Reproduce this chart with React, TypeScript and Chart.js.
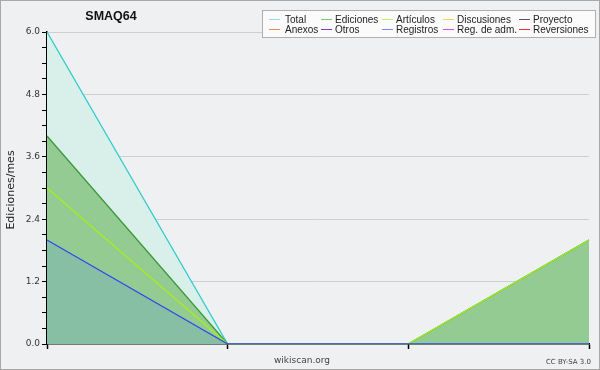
import React, { useEffect, useRef } from "react";
import { Chart, registerables } from "chart.js";

Chart.register(...registerables);

const categories = ["1", "2", "3", "4"];
const totalValues = [6, 0, 0, 2];
const edicionesValues = [4, 0, 0, 2];
const articulosValues = [3, 0, 0, 2];
const registrosValues = [2, 0, 0, 0];
const yMax = 6;
const yMinorStep = 0.3;
const yMajorStep = 1.2;

const legendRows = [
  ["Total", "Ediciones", "Artículos", "Discusiones", "Proyecto"],
  ["Anexos", "Otros", "Registros", "Reg. de adm.", "Reversiones"],
];
const legendColors = [
  ["#9adcdc", "#7cc47c", "#c4ee5c", "#f2d450", "#555555"],
  ["#f08848", "#7a3ed0", "#7a88f0", "#c855e0", "#f03030"],
];

const BG = "#eff0f2";

const decorPlugin = {
  id: "decor",
  beforeDraw(chart: any) {
    const ctx = chart.ctx;
    ctx.save();
    ctx.fillStyle = BG;
    ctx.fillRect(0, 0, chart.width, chart.height);
    ctx.restore();
  },
  afterDraw(chart: any) {
    const ctx = chart.ctx;
    ctx.save();
    ctx.strokeStyle = "#a8a8a8";
    ctx.lineWidth = 1;
    ctx.strokeRect(0.5, 0.5, chart.width - 1, chart.height - 1);
    ctx.fillStyle = "#111";
    ctx.font = 'bold 12.5px "Liberation Sans"';
    ctx.textAlign = "center";
    ctx.textBaseline = "middle";
    ctx.fillText("SMAQ64", 111, 17);
    ctx.save();
    ctx.translate(11, 190);
    ctx.rotate(-Math.PI / 2);
    ctx.font = '11px "DejaVu Sans"';
    ctx.fillStyle = "#222";
    ctx.fillText("Ediciones/mes", 0, 0);
    ctx.restore();
    ctx.font = '9px "DejaVu Sans"';
    ctx.fillStyle = "#444";
    ctx.fillText("wikiscan.org", 302, 361);
    ctx.font = '7px "DejaVu Sans"';
    ctx.textAlign = "right";
    ctx.fillText("CC BY-SA 3.0", 591, 362);
    // legend
    ctx.fillStyle = "#fbfbfb";
    ctx.fillRect(262.5, 10.5, 333, 27);
    ctx.strokeStyle = "#b0b0b0";
    ctx.strokeRect(262.5, 10.5, 333, 27);
    const lineX = [269, 321, 382, 443, 519];
    const textX = [285, 335, 396, 457, 533];
    const rowY = [19, 29];
    ctx.font = '10px "Liberation Sans"';
    ctx.textAlign = "left";
    ctx.textBaseline = "middle";
    legendRows.forEach((row, r) => {
      row.forEach((label, c) => {
        ctx.strokeStyle = legendColors[r][c];
        ctx.lineWidth = 1;
        ctx.beginPath();
        ctx.moveTo(lineX[c], rowY[r] + 0.5);
        ctx.lineTo(lineX[c] + 11, rowY[r] + 0.5);
        ctx.stroke();
        ctx.fillStyle = "#222";
        ctx.fillText(label, textX[c], rowY[r] + 1);
      });
    });
    ctx.restore();
  },
};

const isMajor = (v: number) => Math.abs(v / yMajorStep - Math.round(v / yMajorStep)) < 1e-6;

export default function App() {
  const ref = useRef<HTMLCanvasElement | null>(null);
  useEffect(() => {
    if (!ref.current) return;
    const chart = new Chart(ref.current, {
      type: "line",
      data: {
        labels: categories,
        datasets: [
          {
            label: "Registros",
            data: registrosValues,
            borderColor: "#3048ee",
            backgroundColor: "#87bfa5",
            fill: "origin",
            borderWidth: 1.3,
            pointRadius: 0,
          },
          {
            label: "Artículos",
            data: articulosValues,
            borderColor: "#a8ee18",
            backgroundColor: "transparent",
            fill: false,
            borderWidth: 1.3,
            pointRadius: 0,
          },
          {
            label: "Ediciones",
            data: edicionesValues,
            borderColor: "#3a9a3a",
            backgroundColor: "#93cb93",
            fill: "origin",
            borderWidth: 1.3,
            pointRadius: 0,
          },
          {
            label: "Total",
            data: totalValues,
            borderColor: "#30cccc",
            backgroundColor: "#d9efe9",
            fill: "origin",
            borderWidth: 1.3,
            pointRadius: 0,
          },
        ],
      },
      options: {
        animation: false,
        responsive: false,
        devicePixelRatio: 1,
        layout: { padding: { top: 32, right: 11, left: 0, bottom: 0 } },
        plugins: { legend: { display: false }, tooltip: { enabled: false } },
        scales: {
          x: {
            offset: false,
            ticks: { display: false },
            border: { color: "#000", width: 1.5 },
            grid: {
              drawOnChartArea: false,
              tickLength: 5,
              tickColor: "#000",
              tickWidth: 1.5,
            },
            afterFit: (s: any) => {
              s.height = 26;
            },
          },
          y: {
            min: 0,
            max: yMax,
            ticks: {
              stepSize: yMinorStep,
              autoSkip: false,
              padding: 2,
              color: "#333",
              font: { family: "DejaVu Sans", size: 9 },
              callback: (v: any) => (isMajor(Number(v)) ? Number(v).toFixed(1) : ""),
            },
            border: { color: "#000", width: 1.5 },
            grid: {
              color: (c: any) => (c.tick && isMajor(c.tick.value) && c.tick.value > 0 ? "#cfcfcf" : "transparent"),
              tickColor: "#000",
              tickLength: 5,
              lineWidth: 1,
            },
            afterFit: (s: any) => {
              s.width = 47;
            },
          },
        },
      },
      plugins: [decorPlugin],
    });
    return () => chart.destroy();
  }, []);
  return (
    <div style={{ position: "absolute", left: 0, top: 0, width: 600, height: 370 }}>
      <canvas ref={ref} width={600} height={370} style={{ display: "block" }} />
    </div>
  );
}
